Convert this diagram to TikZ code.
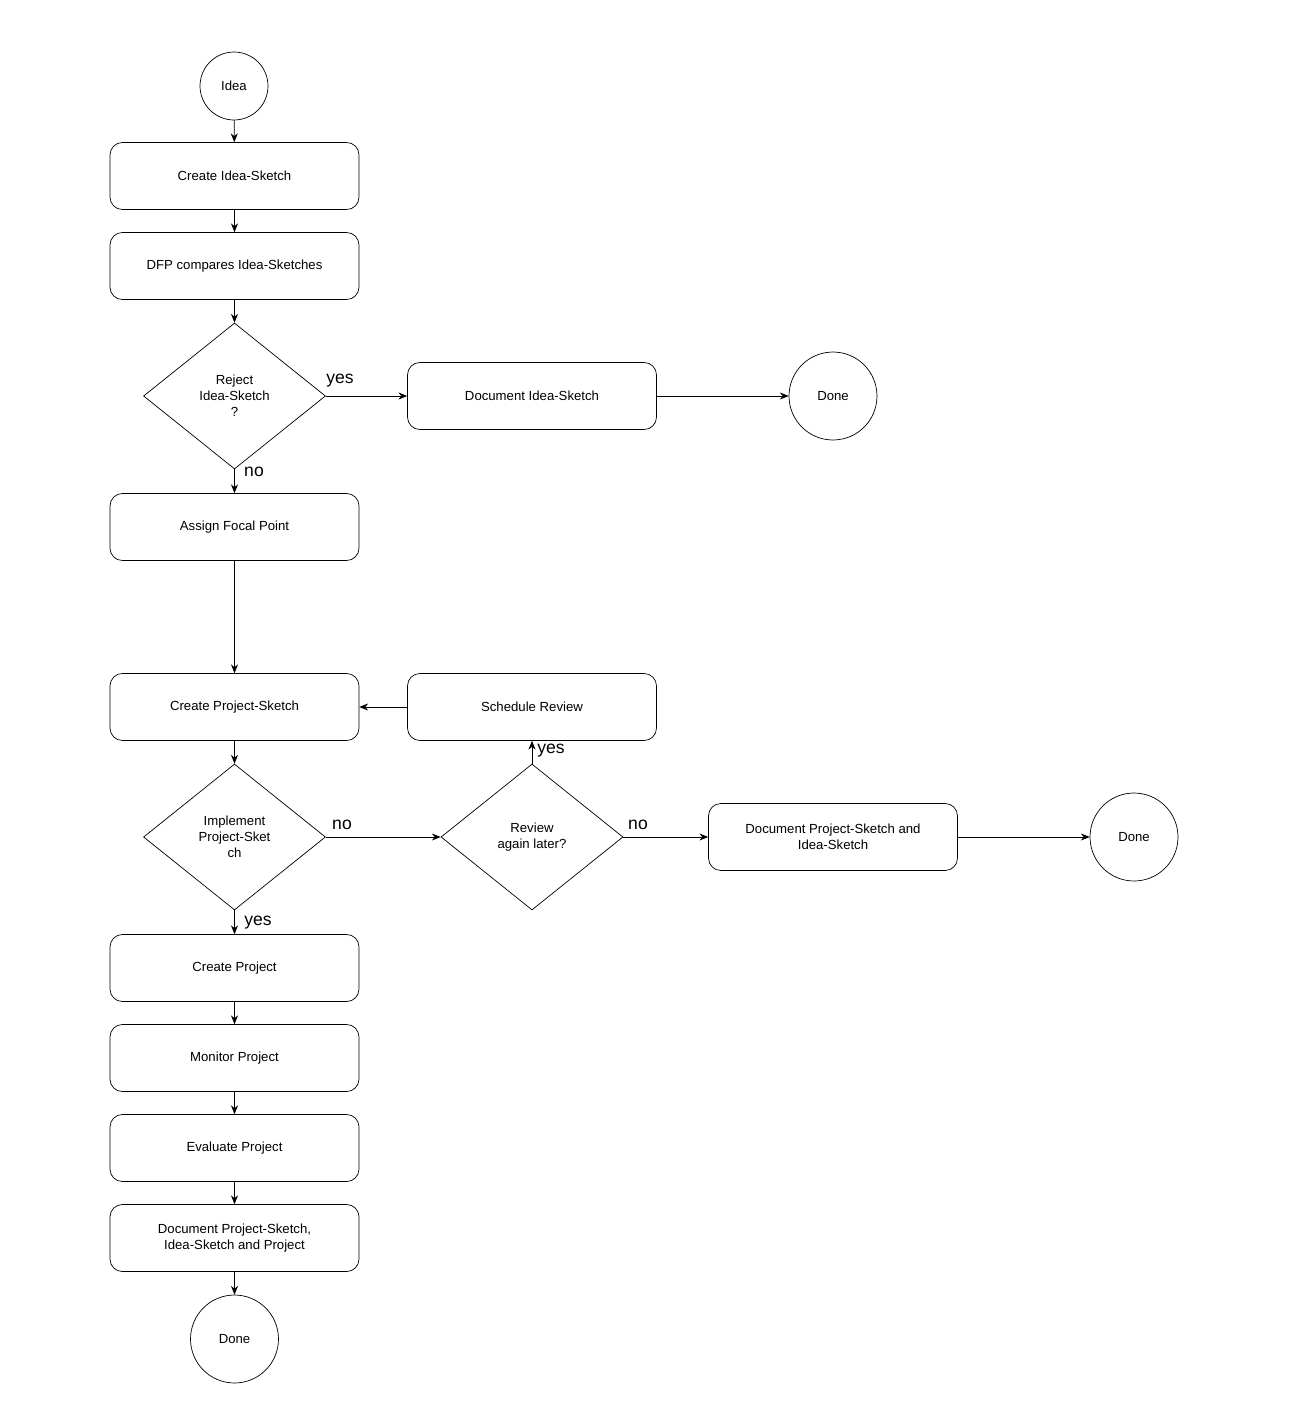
\documentclass[tikz,border=0pt]{standalone}
\usepackage{fontspec}
\setmainfont{Liberation Sans}
\usetikzlibrary{shapes.geometric,arrows.meta}
\tikzset{
  stepbox/.style={draw, rounded corners=7pt, minimum width=4.98cm, minimum height=1.34cm, align=center, font=\fontsize{7.5}{9}\selectfont},
  endpt/.style={draw, circle, minimum size=1.76cm, font=\fontsize{7.5}{9}\selectfont},
  choice/.style={draw, diamond, minimum width=3.64cm, minimum height=2.92cm, inner sep=0pt, aspect=1.25, align=center, font=\fontsize{7.5}{9}\selectfont},
  flow/.style={-{Stealth[length=5pt,width=4pt]}},
  lbl/.style={font=\fontsize{10}{12}\selectfont}
}
\begin{document}
\begin{tikzpicture}[x=0.02cm, y=-0.02cm]
  \useasboundingbox (0,0) rectangle (1306,1414);
  \node[endpt, minimum size=1.36cm] (idea) at (234,86) {Idea};
  \node[stepbox] (sketch) at (234.5,176) {Create Idea-Sketch};
  \node[stepbox] (compare) at (234.5,266) {DFP compares Idea-Sketches};
  \node[choice] (reject) at (234.5,396) {Reject\\Idea-Sketch\\?};
  \node[stepbox] (docidea) at (532,396) {Document Idea-Sketch};
  \node[endpt] (done1) at (833,396) {Done};
  \node[stepbox] (focal) at (234.5,527) {Assign Focal Point};
  \node[stepbox] (psketch) at (234.5,707) {Create Project-Sketch};
  \node[stepbox] (review) at (532,707) {Schedule Review};
  \node[choice] (implement) at (234.5,837) {Implement\\Project-Sket\\ch};
  \node[choice] (again) at (532,837) {Review\\again later?};
  \node[stepbox] (docboth) at (833,837) {Document Project-Sketch and\\Idea-Sketch};
  \node[endpt] (done2) at (1134,837) {Done};
  \node[stepbox] (project) at (234.5,968) {Create Project};
  \node[stepbox] (monitor) at (234.5,1058) {Monitor Project};
  \node[stepbox] (evaluate) at (234.5,1148) {Evaluate Project};
  \node[stepbox] (docall) at (234.5,1238) {Document Project-Sketch,\\Idea-Sketch and Project};
  \node[endpt] (done3) at (234.5,1339) {Done};

  \draw[flow] (idea) -- (sketch);
  \draw[flow] (sketch) -- (compare);
  \draw[flow] (compare) -- (reject);
  \draw[flow] (reject) -- (docidea);
  \draw[flow] (docidea) -- (done1);
  \draw[flow] (reject) -- (focal);
  \draw[flow] (focal) -- (psketch);
  \draw[flow] (review) -- (psketch);
  \draw[flow] (psketch) -- (implement);
  \draw[flow] (implement) -- (again);
  \draw[flow] (again) -- (review);
  \draw[flow] (again) -- (docboth);
  \draw[flow] (docboth) -- (done2);
  \draw[flow] (implement) -- (project);
  \draw[flow] (project) -- (monitor);
  \draw[flow] (monitor) -- (evaluate);
  \draw[flow] (evaluate) -- (docall);
  \draw[flow] (docall) -- (done3);

  \node[lbl] (l1) at (340,381) {yes};
  \node[lbl] (l2) at (254,472) {no};
  \node[lbl] (l3) at (551,751) {yes};
  \node[lbl] (l4) at (342,825) {no};
  \node[lbl] (l5) at (638,825) {no};
  \node[lbl] (l6) at (258,923) {yes};
\end{tikzpicture}
\end{document}
